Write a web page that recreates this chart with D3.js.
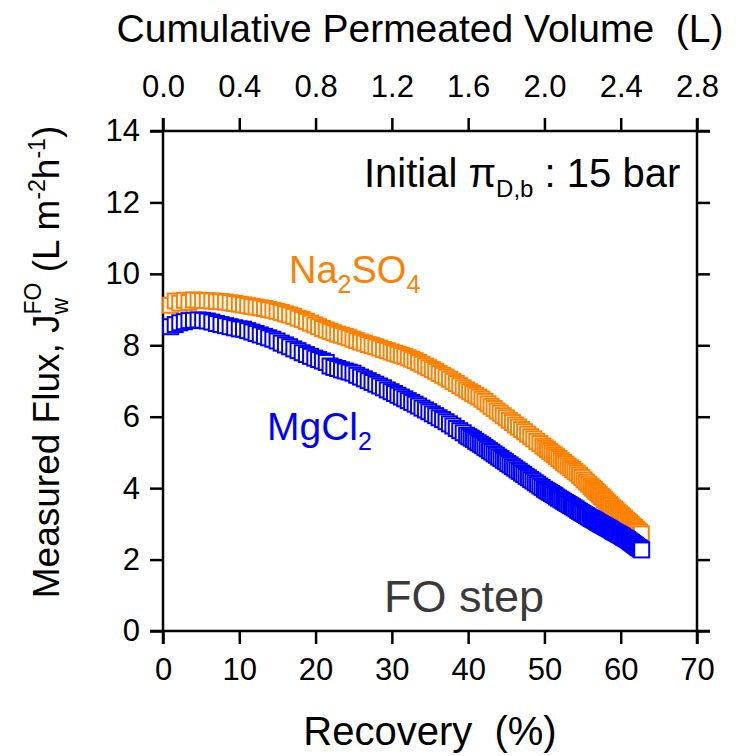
<!DOCTYPE html>
<html>
<head>
<meta charset="utf-8">
<script src="https://cdn.jsdelivr.net/npm/d3@7"></script>
<style>
  html, body { margin: 0; padding: 0; background: #fff; }
  svg { display: block; font-family: "Liberation Sans", Arial, sans-serif; }
</style>
</head>
<body>
<svg id="chart" width="738" height="756"></svg>
<script>
// Recovery (%) and measured FO water flux (L m-2 h-1) for each draw solution
const recoveryNa = [1.0,1.6,2.2,2.8,3.4,4.0,4.6,5.2,5.8,6.4,7.0,7.6,8.2,8.8,9.4,10.0,
  10.55,11.1,11.65,12.2,12.75,13.3,13.85,14.4,14.95,15.5,16.05,16.6,17.15,17.7,18.25,18.8,19.35,19.9,
  20.4,20.9,21.4,21.9,22.4,22.9,23.4,23.9,24.4,24.9,25.4,25.9,26.4,26.9,27.4,27.9,28.4,28.9,29.4,29.9,
  30.35,30.8,31.25,31.7,32.15,32.6,33.05,33.5,33.95,34.4,34.85,35.3,35.75,36.2,36.65,37.1,37.55,38.0,38.45,38.9,39.35,39.8,
  40.2,40.6,41.0,41.4,41.8,42.2,42.6,43.0,43.4,43.8,44.2,44.6,45.0,45.4,45.8,46.2,46.6,47.0,47.4,47.8,48.2,48.6,49.0,49.4,49.8,
  50.1,50.4,50.7,51.0,51.3,51.6,51.9,52.2,52.5,52.8,53.1,53.4,53.7,54.0,54.3,54.6,54.9,55.2,55.5,55.8,
  56.1,56.32,56.54,56.76,56.98,57.2,57.42,57.64,57.86,58.08,58.3,58.52,58.74,58.96,59.18,59.4,59.62,59.84,60.06,60.28,60.5,60.72,60.94,61.16,61.38,61.6,61.82,62.04,62.26,62.48,62.7];
const fluxNa = [9.12,9.24,9.18,9.26,9.20,9.27,9.26,9.25,9.25,9.24,9.23,9.22,9.21,9.19,9.17,9.15,
  9.13,9.11,9.09,9.07,9.05,9.03,9.00,8.98,8.95,8.92,8.88,8.85,8.81,8.76,8.72,8.67,8.62,8.57,
  8.52,8.47,8.43,8.39,8.35,8.31,8.28,8.25,8.21,8.17,8.13,8.09,8.06,8.02,7.99,7.96,7.92,7.88,7.85,7.81,
  7.78,7.75,7.72,7.69,7.65,7.61,7.57,7.52,7.47,7.42,7.37,7.32,7.27,7.21,7.16,7.11,7.05,6.99,6.93,6.87,6.81,6.75,
  6.70,6.65,6.60,6.55,6.49,6.43,6.36,6.29,6.23,6.16,6.10,6.03,5.97,5.90,5.84,5.77,5.71,5.64,5.58,5.51,5.44,5.38,5.31,5.25,5.18,
  5.13,5.08,5.03,4.98,4.93,4.88,4.83,4.77,4.72,4.67,4.62,4.57,4.52,4.47,4.42,4.36,4.30,4.23,4.17,4.11,
  4.05,4.00,3.96,3.91,3.87,3.82,3.77,3.73,3.68,3.64,3.59,3.54,3.50,3.45,3.41,3.37,3.32,3.28,3.24,3.20,3.15,3.11,3.07,3.03,2.98,2.94,2.90,2.85,2.81,2.77,2.72];

const recoveryMg = [1.0,1.6,2.2,2.8,3.4,4.0,4.6,5.2,5.8,6.4,7.0,7.6,8.2,8.8,9.4,10.0,
  10.55,11.1,11.65,12.2,12.75,13.3,13.85,14.4,14.95,15.5,16.05,16.6,17.15,17.7,18.25,18.8,19.35,19.9,
  20.4,20.9,21.4,21.9,22.4,22.9,23.4,23.9,24.4,24.9,25.4,25.9,26.4,26.9,27.4,27.9,28.4,28.9,29.4,29.9,
  30.35,30.8,31.25,31.7,32.15,32.6,33.05,33.5,33.95,34.4,34.85,35.3,35.75,36.2,36.65,37.1,37.55,38.0,38.45,38.9,39.35,39.8,
  40.1,40.4,40.7,41.0,41.3,41.6,41.9,42.2,42.5,42.8,43.1,43.4,43.7,44.0,44.3,44.6,44.9,45.2,45.5,45.8,46.1,46.4,46.7,47.0,47.3,47.6,47.9,48.2,48.5,48.8,49.1,49.4,49.7,50.0,
  50.23,50.46,50.69,50.92,51.15,51.38,51.61,51.84,52.07,52.3,52.53,52.76,52.99,53.22,53.45,53.68,53.91,54.14,54.37,
  54.6,54.83,55.06,55.29,55.52,55.75,55.98,56.15,56.32,56.49,56.66,56.83,57.0,57.17,57.34,57.51,57.68,57.85,58.02,58.19,58.36,58.53,58.7,58.87,59.04,59.21,59.38,59.55,59.72,59.89,60.06,60.23,60.4,60.57,60.74,60.91,
  61.08,61.25,61.42,61.59,61.76,61.93,62.1,62.27,62.44,62.61,62.75];
const fluxMg = [8.52,8.58,8.63,8.66,8.69,8.70,8.71,8.70,8.68,8.65,8.61,8.58,8.55,8.52,8.49,8.46,
  8.45,8.41,8.37,8.33,8.29,8.25,8.21,8.17,8.12,8.06,8.01,7.96,7.90,7.85,7.79,7.74,7.69,7.64,
  7.60,7.56,7.52,7.42,7.38,7.35,7.31,7.28,7.25,7.22,7.16,7.11,7.06,7.01,6.96,6.91,6.86,6.81,6.75,6.70,
  6.65,6.60,6.55,6.50,6.45,6.40,6.35,6.30,6.24,6.19,6.14,6.08,6.03,5.97,5.92,5.86,5.80,5.74,5.67,5.61,5.55,5.48,
  5.44,5.40,5.36,5.31,5.27,5.23,5.19,5.14,5.10,5.05,5.01,4.96,4.92,4.87,4.83,4.78,4.74,4.69,4.65,4.60,4.56,4.51,4.47,4.42,4.38,4.33,4.29,4.24,4.20,4.15,4.11,4.06,4.02,3.97,
  3.94,3.91,3.88,3.85,3.82,3.79,3.75,3.72,3.69,3.66,3.63,3.60,3.57,3.54,3.51,3.48,3.45,3.42,3.38,
  3.35,3.32,3.29,3.26,3.23,3.20,3.17,3.15,3.13,3.11,3.09,3.07,3.04,3.02,3.00,2.98,2.96,2.94,2.92,2.90,2.88,2.86,2.84,2.81,2.79,2.77,2.75,2.73,2.71,2.69,2.67,2.65,2.62,2.60,2.58,2.56,
  2.53,2.50,2.48,2.45,2.42,2.40,2.37,2.34,2.32,2.29,2.27];

const recoveryTicks = [0, 10, 20, 30, 40, 50, 60, 70];
const fluxTicks = [0, 2, 4, 6, 8, 10, 12, 14];
const volumeTicks = [0.0, 0.4, 0.8, 1.2, 1.6, 2.0, 2.4, 2.8];

const colorNa = "#ff8000";
const colorMg = "#0000ff";

const svg = d3.select("#chart");
const plotL = 163, plotR = 697, plotT = 131, plotB = 631;
const ext = 13;   // axis lines run past the corners
const tickLen = 13;

const x = d3.scaleLinear().domain([0, 70]).range([plotL, plotR]);
const xTop = d3.scaleLinear().domain([0, 2.8]).range([plotL, plotR]);
const y = d3.scaleLinear().domain([0, 14]).range([plotB, plotT]);

const tickFont = 31;

function styleAxis(g) {
  g.select(".domain").remove();
  g.selectAll(".tick line").attr("stroke", "#000").attr("stroke-width", 2.5);
  g.selectAll(".tick text").attr("fill", "#000")
    .style("font-family", "'Liberation Sans', Arial, sans-serif")
    .style("font-size", tickFont + "px");
}

svg.append("g").attr("transform", `translate(0,${plotB})`)
  .call(d3.axisBottom(x).tickValues(recoveryTicks).tickSize(tickLen).tickPadding(14).tickFormat(d3.format("d")))
  .call(styleAxis);
svg.append("g").attr("transform", `translate(0,${plotT})`)
  .call(d3.axisTop(xTop).tickValues(volumeTicks).tickSize(tickLen).tickPadding(21).tickFormat(d3.format(".1f")))
  .call(styleAxis);
svg.append("g").attr("transform", `translate(${plotL},0)`)
  .call(d3.axisLeft(y).tickValues(fluxTicks).tickSize(tickLen).tickPadding(10).tickFormat(d3.format("d")))
  .call(styleAxis);
svg.append("g").attr("transform", `translate(${plotR},0)`)
  .call(d3.axisRight(y).tickValues(fluxTicks).tickSize(tickLen).tickFormat(""))
  .call(styleAxis);

// frame lines, extended beyond the corners
const frame = svg.append("g").attr("stroke", "#000").attr("stroke-width", 2.5);
frame.append("line").attr("x1", plotL - ext).attr("x2", plotR + ext).attr("y1", plotB).attr("y2", plotB);
frame.append("line").attr("x1", plotL - ext).attr("x2", plotR + ext).attr("y1", plotT).attr("y2", plotT);
frame.append("line").attr("x1", plotL).attr("x2", plotL).attr("y1", plotT - ext).attr("y2", plotB + ext);
frame.append("line").attr("x1", plotR).attr("x2", plotR).attr("y1", plotT - ext).attr("y2", plotB + ext);

// hollow square markers, drawn in sampling order
const sq = 15;
function drawSeries(xs, ys, color) {
  const pts = xs.map((v, i) => [v, ys[i]]);
  svg.append("g").selectAll("rect").data(pts).join("rect")
    .attr("x", d => x(d[0]) - sq / 2)
    .attr("y", d => y(d[1]) - sq / 2)
    .attr("width", sq).attr("height", sq)
    .attr("fill", "#fff")
    .attr("stroke", color)
    .attr("stroke-width", 2);
}
drawSeries(recoveryNa, fluxNa, colorNa);
drawSeries(recoveryMg, fluxMg, colorMg);

// axis titles
svg.append("text").attr("x", 420).attr("y", 42).attr("text-anchor", "middle")
  .style("font-size", "39px").text("Cumulative Permeated Volume\u00a0\u00a0(L)");
svg.append("text").attr("x", 430).attr("y", 745).attr("text-anchor", "middle")
  .style("font-size", "40px").text("Recovery\u00a0\u00a0(%)");

const yt = svg.append("text")
  .attr("transform", "translate(59,362) rotate(-90)")
  .attr("text-anchor", "middle")
  .style("font-size", "37px");
yt.append("tspan").text("Measured Flux, J");
const wSpan = yt.append("tspan").attr("dy", 9).style("font-size", "23px").text("w");
const wLen = wSpan.node().getComputedTextLength();
yt.append("tspan").attr("dx", -wLen).attr("dy", -27).style("font-size", "23px").text("FO");
yt.append("tspan").attr("dy", 18).text("\u00a0(L m");
yt.append("tspan").attr("dy", -14).style("font-size", "23px").text("-2");
yt.append("tspan").attr("dy", 14).text("h");
yt.append("tspan").attr("dy", -14).style("font-size", "23px").text("-1");
yt.append("tspan").attr("dy", 14).text(")");

// annotations
const ann = svg.append("text").attr("x", 364).attr("y", 187).style("font-size", "40px");
ann.append("tspan").text("Initial \u03c0");
ann.append("tspan").attr("dy", 10).style("font-size", "24px").text("D,b");
ann.append("tspan").attr("dy", -10).text(" : 15 bar");

const na = svg.append("text").attr("x", 289).attr("y", 283).attr("fill", colorNa).style("font-size", "38px");
na.append("tspan").text("Na");
na.append("tspan").attr("dy", 10).style("font-size", "25px").text("2");
na.append("tspan").attr("dy", -10).text("SO");
na.append("tspan").attr("dy", 10).style("font-size", "25px").text("4");

const mg = svg.append("text").attr("x", 267).attr("y", 440).attr("fill", colorMg).style("font-size", "39px");
mg.append("tspan").text("MgCl");
mg.append("tspan").attr("dy", 10).style("font-size", "25px").text("2");

svg.append("text").attr("x", 384).attr("y", 612).attr("fill", "#3a3a3a")
  .style("font-size", "45px").text("FO step");
</script>
</body>
</html>
